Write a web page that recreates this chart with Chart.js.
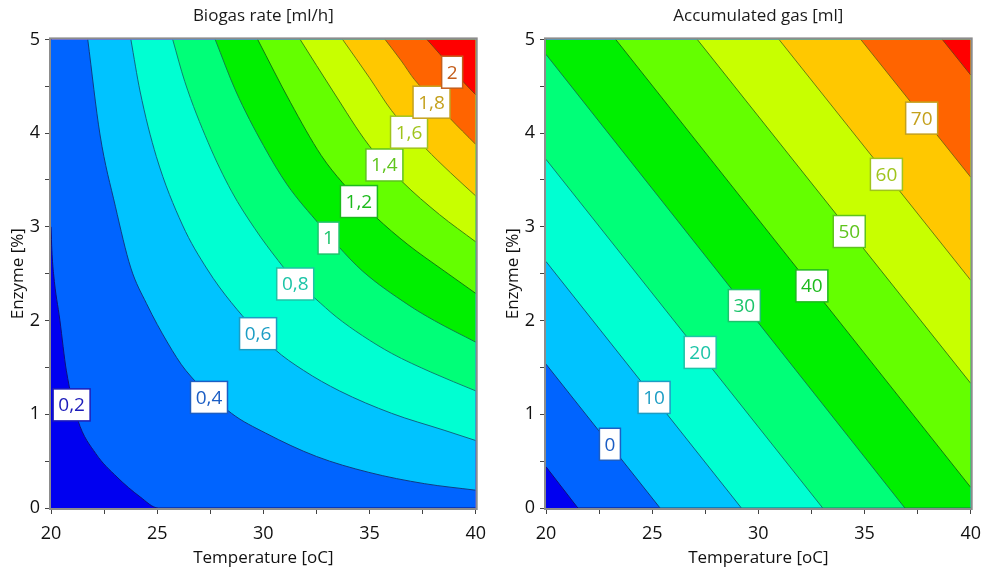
<!DOCTYPE html>
<html>
<head>
<meta charset="utf-8">
<script src="https://cdn.jsdelivr.net/npm/chart.js@4.4.1/dist/chart.umd.min.js"></script>
<style>
    body { margin: 0; background: #fff; }
    .wrap { display: flex; width: 990px; height: 568px; }
    canvas { display: block; }
</style>
</head>
<body>
<div class="wrap">
    <canvas id="rateChart" width="495" height="568"></canvas>
    <canvas id="gasChart" width="495" height="568"></canvas>
</div>
<script>
// Axis ranges and labelled ticks
const tempMin = 20, tempMax = 40;
const enzMin = 0, enzMax = 5;
const tempTicks = [20, 25, 30, 35, 40];
const enzTicks = [0, 1, 2, 3, 4, 5];

// Band colours, lowest band first (shared by both plots)
const bandColors = ['#0000f0', '#0064ff', '#00c3ff', '#00ffd2', '#00ff78', '#00f000',
    '#64ff00', '#c8ff00', '#ffc800', '#ff6400', '#ff0000'];

// Biogas rate [ml/h]: contour levels and their curves as [temperature, enzyme]
const rateLevels = [0.2, 0.4, 0.6, 0.8, 1.0, 1.2, 1.4, 1.6, 1.8, 2.0];
const rateLabels = ['0,2', '0,4', '0,6', '0,8', '1', '1,2', '1,4', '1,6', '1,8', '2'];
const rate02 = [[20, 3.0], [20.04, 2.75], [20.12, 2.5], [20.42, 2.0], [20.72, 1.47], [21.26, 0.94], [22.11, 0.58], [23.11, 0.33], [24.19, 0.12], [25.05, 0]];
const rate04 = [[21.73, 5], [22.31, 3.98], [23.03, 3.22], [23.76, 2.56], [24.5, 2.18], [25.5, 1.76], [26.34, 1.47], [28.5, 1.01], [30.1, 0.8], [32.5, 0.55], [34.97, 0.38], [37.58, 0.26], [40, 0.19]];
const rate06 = [[23.76, 5], [24.19, 4.45], [24.96, 3.75], [26.19, 3.02], [27.35, 2.55], [28.5, 2.19], [30.5, 1.7], [31.88, 1.47], [33.58, 1.25], [36.04, 1.01], [38.51, 0.83], [40, 0.72]];
const rate08 = [[25.73, 5], [26.3, 4.55], [27.4, 3.9], [28.5, 3.38], [29.6, 2.98], [30.7, 2.64], [31.5, 2.42], [32.42, 2.24], [33.43, 2.04], [34.66, 1.84], [36.04, 1.65], [37.89, 1.45], [40, 1.25]];
const rate10 = [[27.73, 5], [28.7, 4.45], [30.0, 3.87], [31.12, 3.45], [32.66, 3.02], [33.5, 2.8], [34.66, 2.53], [36.81, 2.17], [38.05, 2.0], [40, 1.77]];
const rate12 = [[29.73, 5], [31.27, 4.33], [32.73, 3.76], [33.73, 3.47], [35.27, 3.11], [36.81, 2.81], [38.51, 2.53], [40, 2.29]];
const rate14 = [[31.73, 5], [33.27, 4.45], [34.97, 3.87], [36.5, 3.49], [38.3, 3.13], [40, 2.84]];
const rate16 = [[33.73, 5], [35.0, 4.59], [36.04, 4.24], [37.63, 3.84], [38.8, 3.58], [40, 3.33]];
const rate18 = [[35.73, 5], [36.5, 4.77], [37.12, 4.57], [38.0, 4.36], [38.74, 4.17], [40, 3.88]];
const rate20 = [[37.7, 5], [38.4, 4.82], [39.2, 4.6], [40, 4.41]];
const rateCurves = [rate02, rate04, rate06, rate08, rate10, rate12, rate14, rate16, rate18, rate20];
const rateLabelSpots = [[20.97, 1.10], [27.44, 1.18], [29.75, 1.86], [31.5, 2.39], [33.07, 2.88],
    [34.5, 3.27], [35.7, 3.66], [36.86, 4.01], [37.92, 4.33], [38.89, 4.65]];

// Accumulated gas [ml]: contour levels and their (straight) curves
const gasLevels = [-10, 0, 10, 20, 30, 40, 50, 60, 70, 80];
const gasLabels = [null, '0', '10', '20', '30', '40', '50', '60', '70', null];
const gasM10 = [[20, 0.44], [21.5, 0]];
const gas00 = [[20, 1.535], [25.37, 0]];
const gas10 = [[20, 2.63], [29.2, 0]];
const gas20 = [[20, 3.72], [33.03, 0]];
const gas30 = [[20, 4.84], [36.9, 0]];
const gas40 = [[23.28, 5], [40, 0.22]];
const gas50 = [[27.12, 5], [40, 1.33]];
const gas60 = [[30.97, 5], [40, 2.43]];
const gas70 = [[34.82, 5], [40, 3.53]];
const gas80 = [[38.66, 5], [40, 4.62]];
const gasCurves = [gasM10, gas00, gas10, gas20, gas30, gas40, gas50, gas60, gas70, gas80];
const gasLabelSpots = [null, [23.01, 0.68], [25.09, 1.18], [27.26, 1.66], [29.34, 2.16],
    [32.52, 2.37], [34.28, 2.95], [36.03, 3.56], [37.69, 4.16], null];

const FONT = "'Open Sans', 'Noto Sans', sans-serif";
Chart.defaults.font.family = FONT;
Chart.defaults.color = '#111';

function shade(hex, f, lift) {
    const n = parseInt(hex.slice(1), 16);
    const c = [n >> 16, (n >> 8) & 255, n & 255].map(v => Math.min(255, Math.round(v * f + lift)));
    return `rgb(${c.join(',')})`;
}

// One dataset per level: the curve, filled up to the top of the plot with the next band colour.
// Curves that run into the floor get closed along the bottom edge.
function contourDatasets(levels, curves, smooth) {
    return curves.map((curve, i) => {
        const pts = curve.map(([t, e]) => ({ x: t, y: e }));
        const last = curve[curve.length - 1];
        if (last[1] === enzMin && last[0] < tempMax) pts.push({ x: tempMax, y: enzMin });
        return {
            label: String(levels[i]),
            data: pts,
            order: curves.length - i,
            fill: 'end',
            backgroundColor: bandColors[i + 1],
            borderColor: shade(bandColors[i], 0.45, 15),
            borderWidth: 1,
            pointRadius: 0,
            tension: 0,
            cubicInterpolationMode: smooth ? 'monotone' : 'default'
        };
    });
}

// Base band, frame and the boxed level labels
const contourDecor = {
    id: 'contourDecor',
    beforeDatasetsDraw(chart) {
        const { ctx, chartArea: a } = chart;
        ctx.save();
        ctx.fillStyle = bandColors[0];
        ctx.fillRect(a.left, a.top, a.width, a.height);
        ctx.restore();
    },
    afterDatasetsDraw(chart, args, opts) {
        const { ctx, chartArea: a } = chart;
        const xs = chart.scales.x, ys = chart.scales.y;
        ctx.save();
        // frame over the edges (also hides the closing runs along the floor)
        ctx.strokeStyle = '#8c8c8c';
        ctx.lineWidth = 2;
        ctx.strokeRect(a.left - 1, a.top - 1, a.width + 2, a.height + 2);
        ctx.font = `19px ${FONT}`;
        ctx.textAlign = 'center';
        ctx.textBaseline = 'middle';
        opts.texts.forEach((txt, i) => {
            const spot = opts.spots[i];
            if (!txt || !spot) return;
            const px = xs.getPixelForValue(spot[0]);
            const py = ys.getPixelForValue(spot[1]);
            const w = Math.round(ctx.measureText(txt).width + 10);
            const h = 32;
            const col = shade(bandColors[i], 0.66, 28);
            ctx.fillStyle = '#fff';
            ctx.fillRect(px - w / 2, py - h / 2, w, h);
            ctx.strokeStyle = col;
            ctx.lineWidth = 1.5;
            ctx.strokeRect(px - w / 2, py - h / 2, w, h);
            ctx.fillStyle = col;
            ctx.fillText(txt, px, py + 1);
        });
        ctx.restore();
    }
};

function makeChart(id, title, levels, curves, texts, spots, smooth) {
    const tickFont = { size: 18 };
    const titleFont = { size: 17 };
    return new Chart(document.getElementById(id), {
        type: 'line',
        data: { datasets: contourDatasets(levels, curves, smooth) },
        plugins: [contourDecor],
        options: {
            responsive: false,
            animation: false,
            events: [],
            layout: { padding: { left: 0, right: 11, top: 0, bottom: 0 } },
            plugins: {
                legend: { display: false },
                tooltip: { enabled: false },
                title: {
                    display: true, text: title, fullSize: false, color: '#1a1a1a',
                    font: { size: 17, weight: 'normal' },
                    padding: { top: 6, bottom: 13 }
                },
                contourDecor: { texts: texts, spots: spots }
            },
            scales: {
                x: {
                    type: 'linear', min: tempMin, max: tempMax,
                    afterFit: s => { s.height = 60; },
                    ticks: {
                        stepSize: 2.5, autoSkip: false, maxRotation: 0, padding: 9, font: tickFont,
                        callback: v => tempTicks.includes(v) ? v : ''
                    },
                    grid: { drawOnChartArea: false, tickLength: 6, tickColor: '#444' },
                    border: { color: '#8c8c8c' },
                    title: { display: true, text: 'Temperature [oC]', font: titleFont, padding: { top: 0, bottom: 0 } }
                },
                y: {
                    type: 'linear', min: enzMin, max: enzMax,
                    afterFit: s => { s.width = 51; },
                    ticks: {
                        stepSize: 0.5, autoSkip: false, padding: 5, font: tickFont,
                        callback: v => enzTicks.includes(v) ? v : ''
                    },
                    grid: { drawOnChartArea: false, tickLength: 6, tickColor: '#444' },
                    border: { color: '#8c8c8c' },
                    title: { display: true, text: 'Enzyme [%]', font: titleFont, padding: { top: 8, bottom: 0 } }
                }
            }
        }
    });
}

makeChart('rateChart', 'Biogas rate [ml/h]', rateLevels, rateCurves, rateLabels, rateLabelSpots, true);
makeChart('gasChart', 'Accumulated gas [ml]', gasLevels, gasCurves, gasLabels, gasLabelSpots, false);
</script>
</body>
</html>
